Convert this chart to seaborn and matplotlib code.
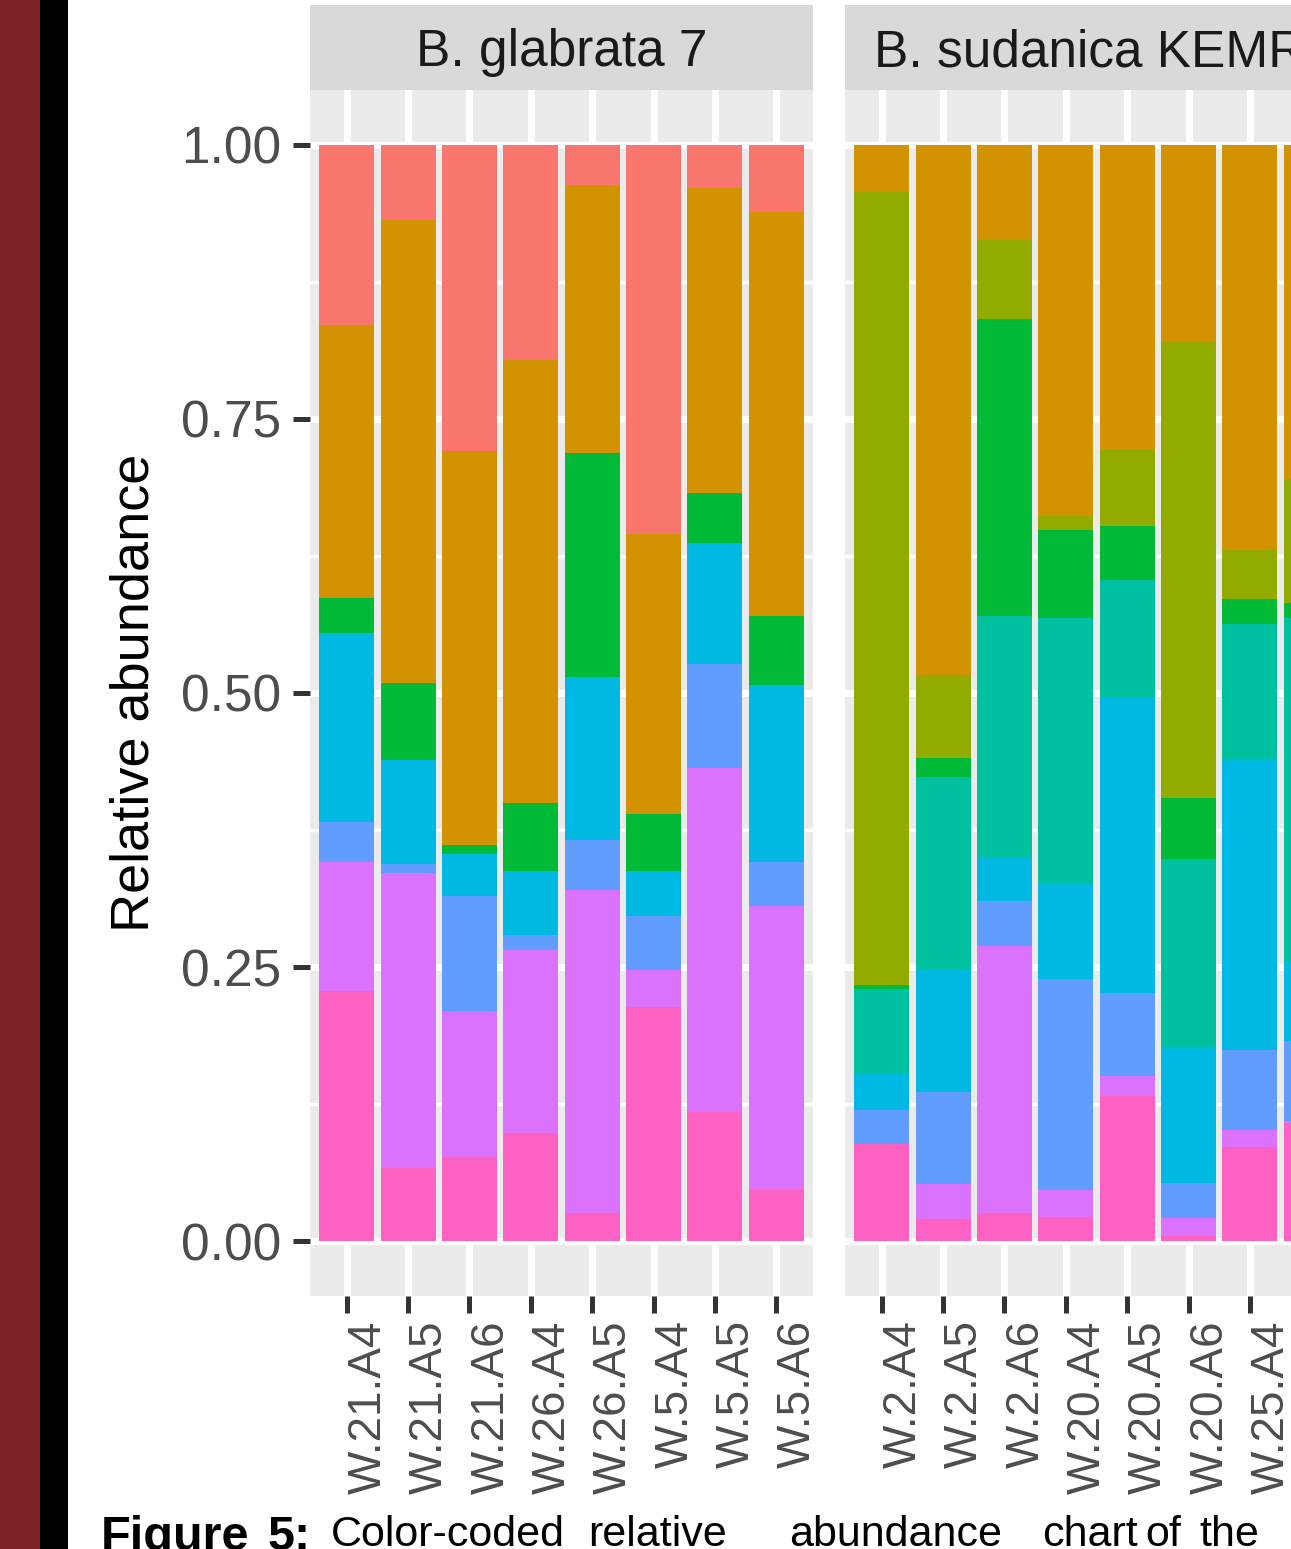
import numpy as np
import pandas as pd
import matplotlib
matplotlib.use("Agg")
import matplotlib.pyplot as plt
from matplotlib.patches import Rectangle
from matplotlib.ticker import FixedLocator
import seaborn as sns

plt.rcParams['font.family'] = ['Liberation Sans', 'DejaVu Sans']

# ==========================================
# DATA
# ==========================================
# taxa listed top of the stack -> bottom of the stack (legend is cropped away)
taxa = ["Taxon 1", "Taxon 2", "Taxon 3", "Taxon 4", "Taxon 5",
        "Taxon 6", "Taxon 7", "Taxon 8", "Taxon 9"]
taxa_colors = ["#F8766D", "#D39200", "#93AA00", "#00BA38", "#00C19F",
               "#00B9E3", "#619CFF", "#DB72FB", "#FF61C3"]

panel_titles = ["B. glabrata 7", "B. sudanica KEMRI"]

glabrata_samples = ["W.21.A4", "W.21.A5", "W.21.A6", "W.26.A4",
                    "W.26.A5", "W.5.A4", "W.5.A5", "W.5.A6"]
sudanica_samples = ["W.2.A4", "W.2.A5", "W.2.A6", "W.20.A4",
                    "W.20.A5", "W.20.A6", "W.25.A4", "W.25.A5"]

# rows follow `taxa`, columns follow the sample lists
glabrata_abund = [
    [0.164, 0.069, 0.279, 0.196, 0.037, 0.355, 0.039, 0.061],
    [0.249, 0.422, 0.360, 0.404, 0.244, 0.255, 0.279, 0.369],
    [0.000, 0.000, 0.000, 0.000, 0.000, 0.000, 0.000, 0.000],
    [0.032, 0.070, 0.008, 0.062, 0.204, 0.052, 0.045, 0.063],
    [0.000, 0.000, 0.000, 0.000, 0.000, 0.000, 0.000, 0.000],
    [0.173, 0.095, 0.038, 0.059, 0.149, 0.041, 0.111, 0.161],
    [0.036, 0.008, 0.105, 0.013, 0.046, 0.050, 0.094, 0.040],
    [0.118, 0.269, 0.133, 0.167, 0.294, 0.033, 0.314, 0.259],
    [0.228, 0.067, 0.077, 0.099, 0.026, 0.214, 0.118, 0.047],
]
sudanica_abund = [
    [0.000, 0.000, 0.000, 0.000, 0.000, 0.000, 0.000, 0.000],
    [0.043, 0.484, 0.087, 0.339, 0.278, 0.179, 0.370, 0.305],
    [0.723, 0.075, 0.072, 0.012, 0.070, 0.417, 0.044, 0.113],
    [0.004, 0.018, 0.271, 0.081, 0.049, 0.055, 0.023, 0.014],
    [0.077, 0.176, 0.220, 0.241, 0.107, 0.172, 0.123, 0.312],
    [0.033, 0.111, 0.040, 0.088, 0.270, 0.124, 0.266, 0.073],
    [0.031, 0.084, 0.041, 0.192, 0.075, 0.032, 0.073, 0.073],
    [0.000, 0.032, 0.243, 0.025, 0.019, 0.016, 0.015, 0.002],
    [0.089, 0.020, 0.026, 0.022, 0.132, 0.005, 0.086, 0.108],
]

y_ticks = [0.0, 0.25, 0.5, 0.75, 1.0]
y_tick_labels = ["0.00", "0.25", "0.50", "0.75", "1.00"]
y_minor = [0.125, 0.375, 0.625, 0.875]

caption_words = [("Figure", "bold", 101), ("5:", "bold", 268),
                 ("Color-coded", "normal", 331), ("relative", "normal", 588),
                 ("abundance", "normal", 789), ("chart", "normal", 1042),
                 ("of", "normal", 1145), ("the", "normal", 1199)]


def long_frame(samples, abund):
    rows = []
    for taxon, vals in zip(taxa, abund):
        for s, v in zip(samples, vals):
            rows.append({"sample": s, "taxon": taxon, "abundance": v})
    df = pd.DataFrame(rows)
    # cumulative top of each segment, stacking from the last taxon upwards
    df["rank"] = df["taxon"].map({t: i for i, t in enumerate(taxa[::-1])})
    df = df.sort_values(["sample", "rank"])
    df["top"] = df.groupby("sample")["abundance"].cumsum()
    return df


# ==========================================
# FIGURE
# ==========================================
W, H = 1291, 1549
fig = plt.figure(figsize=(W / 100, H / 100), dpi=100)
fig.patch.set_facecolor("white")

# page decoration on the left
fig.add_artist(Rectangle((0, 0), 40 / W, 1, transform=fig.transFigure,
                         facecolor="#7E2226", edgecolor="none"))
fig.add_artist(Rectangle((40 / W, 0), 28 / W, 1, transform=fig.transFigure,
                         facecolor="black", edgecolor="none"))

panel_w = 503
panel_lefts = [310, 845]
panel_top, panel_bottom = 90, 1296

panels = [(glabrata_samples, glabrata_abund), (sudanica_samples, sudanica_abund)]
axes = []
for i, (samples, abund) in enumerate(panels):
    ax = fig.add_axes([panel_lefts[i] / W, (H - panel_bottom) / H,
                       panel_w / W, (panel_bottom - panel_top) / H])
    frame = long_frame(samples, abund)
    # paint the tallest cumulative layer first, lower layers over it
    for taxon, col in zip(taxa, taxa_colors):
        sub = frame[frame["taxon"] == taxon]
        sns.barplot(data=sub, x="sample", y="top", order=samples, color=col,
                    saturation=1, width=0.9, errorbar=None, linewidth=0,
                    edgecolor="none", ax=ax)
    ax.set_xlim(-0.6, len(samples) - 0.4)
    ax.set_ylim(-0.05, 1.05)
    ax.set_facecolor("#EBEBEB")
    for sp in ax.spines.values():
        sp.set_visible(False)
    ax.set_axisbelow(True)
    ax.yaxis.set_major_locator(FixedLocator(y_ticks))
    ax.yaxis.set_minor_locator(FixedLocator(y_minor))
    ax.set_yticklabels(y_tick_labels)
    ax.grid(which="major", color="white", linewidth=5)
    ax.grid(which="minor", axis="y", color="white", linewidth=2.5)
    ax.tick_params(which="minor", length=0)
    ax.tick_params(axis="both", which="major", length=12.5, width=3.6,
                   color="#333333", labelcolor="#4D4D4D")
    ax.tick_params(axis="y", labelsize=37, pad=8)
    ax.tick_params(axis="x", labelsize=33, labelrotation=90, pad=5)
    for lbl in ax.get_xticklabels():
        lbl.set_horizontalalignment("left")
    ax.set_xlabel("")
    ax.set_ylabel("")

    # facet strip
    strip = fig.add_axes([panel_lefts[i] / W, (H - 90) / H, panel_w / W, 85 / H])
    strip.set_facecolor("#D9D9D9")
    strip.set_xticks([])
    strip.set_yticks([])
    for sp in strip.spines.values():
        sp.set_visible(False)
    strip.text(0.5, 0.44, panel_titles[i], ha="center", va="center",
               fontsize=37, color="#1A1A1A", transform=strip.transAxes)
    axes.append(ax)

axes[1].tick_params(axis="y", left=False, labelleft=False)

axes[0].set_ylabel("Relative abundance", fontsize=39, color="black")
axes[0].yaxis.set_label_coords(-0.30, 0.5)

# caption line, cut at the bottom edge as in the source page
for word, weight, x in caption_words:
    if weight == "bold":
        size, base = 35, 1550
    else:
        size, base = 31, 1546
    fig.text(x / W, 1 - base / H, word, fontsize=size, fontweight=weight,
             color="black", ha="left", va="baseline")

fig.savefig("out.png", dpi=100)
